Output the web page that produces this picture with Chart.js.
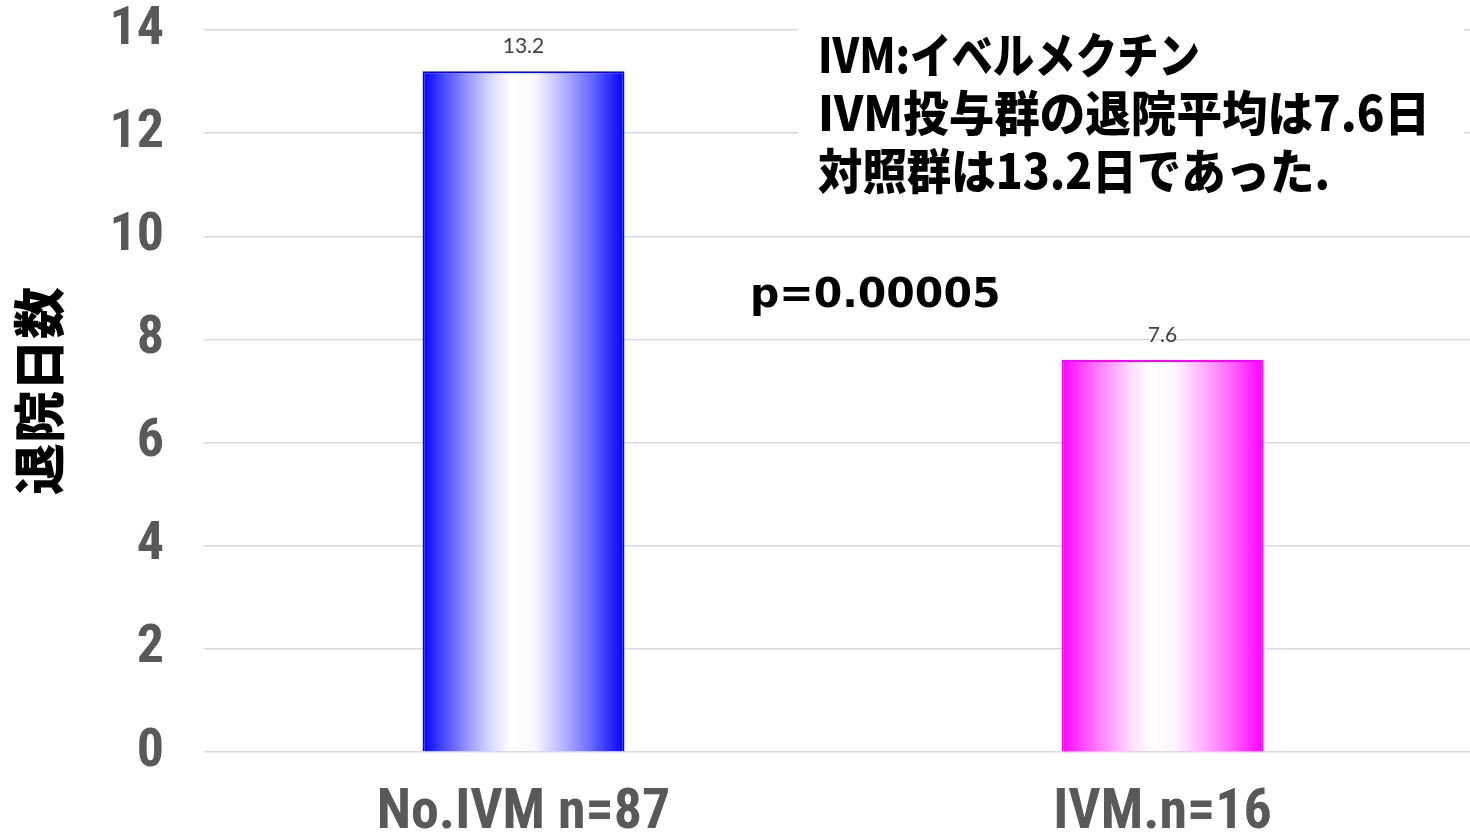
<!DOCTYPE html>
<html lang="ja">
<head>
<meta charset="utf-8">
<script src="https://cdn.jsdelivr.net/npm/chart.js@4.4.1/dist/chart.umd.min.js"></script>
<style>
  html, body { margin: 0; padding: 0; background: #ffffff; overflow: hidden; }
  #wrap { position: relative; width: 1482px; height: 832px; }
</style>
</head>
<body>
<div id="wrap"><canvas id="chart"></canvas></div>
<script>
// Mean length of hospital stay (days) by group
const categories = ['No.IVM n=87', 'IVM.n=16'];
const dischargeDays = [13.2, 7.6];
const barColors = ['#0000ff', '#ff00ff'];
const yTicks = [0, 2, 4, 6, 8, 10, 12, 14];
const yTitle = '退院日数';
const noteLines = ['IVM:イベルメクチン', 'IVM投与群の退院平均は7.6日', '対照群は13.2日であった.'];
const pValueText = 'p=0.00005';

const BAR_PCT = 0.316;
const NARROW = "'Liberation Sans Narrow', 'Roboto Condensed', 'DejaVu Sans Condensed', 'Liberation Sans', sans-serif";
const CJK = "'Noto Sans CJK JP', 'Noto Sans CJK SC', sans-serif";

// Blend a hex colour toward white by t (0..1)
function toWhite(hex, t) {
  const r = parseInt(hex.slice(1, 3), 16), g = parseInt(hex.slice(3, 5), 16), b = parseInt(hex.slice(5, 7), 16);
  const m = v => Math.round(v + (255 - v) * t);
  return `rgb(${m(r)},${m(g)},${m(b)})`;
}
// Horizontal shading across each bar: saturated edges, white middle
const shadeStops = [[0, 0], [0.1, 0.28], [0.22, 0.58], [0.34, 0.86], [0.44, 1], [0.56, 0.97], [0.7, 0.7], [0.84, 0.4], [0.95, 0.12], [1, 0]];

function barFill(c) {
  const chart = c.chart;
  const base = barColors[c.dataIndex];
  const xs = chart.scales.x;
  if (!chart.chartArea || !xs) return base;
  const center = xs.getPixelForValue(c.dataIndex);
  const half = xs.width / categories.length * BAR_PCT / 2;
  const g = chart.ctx.createLinearGradient(center - half, 0, center + half, 0);
  shadeStops.forEach(([p, t]) => g.addColorStop(p, toWhite(base, t)));
  return g;
}

// Value labels above bars, the note box and the p-value
const overlayPlugin = {
  id: 'overlay',
  afterDatasetsDraw(chart) {
    const ctx = chart.ctx;
    ctx.save();
    const meta = chart.getDatasetMeta(0);
    ctx.fillStyle = '#404040';
    ctx.font = "21px Lato, 'Open Sans', sans-serif";
    ctx.textAlign = 'center';
    ctx.textBaseline = 'middle';
    meta.data.forEach((el, i) => {
      ctx.fillText(String(dischargeDays[i]), el.x, el.y - 25);
    });

    // note box sits over the grid
    ctx.fillStyle = '#ffffff';
    ctx.fillRect(798, 16, 666, 188);
    ctx.fillStyle = '#000000';
    ctx.textAlign = 'left';
    ctx.font = `900 48px ${CJK}`;
    const lineY = [55, 113, 171];
    const lineW = [382, 612, 512];
    noteLines.forEach((t, i) => ctx.fillText(t, 818, lineY[i], lineW[i]));

    ctx.font = "bold 41px 'DejaVu Sans', sans-serif";
    ctx.fillText(pValueText, 750, 296);
    ctx.restore();
  }
};

new Chart(document.getElementById('chart'), {
  type: 'bar',
  data: {
    labels: categories,
    datasets: [{
      data: dischargeDays,
      backgroundColor: barFill,
      borderColor: barColors,
      borderWidth: 2,
      borderSkipped: 'bottom',
      barPercentage: BAR_PCT,
      categoryPercentage: 1
    }]
  },
  options: {
    responsive: true,
    maintainAspectRatio: false,
    animation: false,
    layout: { padding: { top: 30, right: 0, bottom: 0, left: 0 } },
    plugins: { legend: { display: false }, tooltip: { enabled: false } },
    scales: {
      x: {
        grid: { display: false },
        border: { display: false },
        ticks: {
          color: '#595959',
          font: { family: NARROW, size: 56, weight: 'bold', lineHeight: 1 },
          padding: 26,
          maxRotation: 0,
          autoSkip: false
        },
        afterFit(scale) { scale.height = 80; scale.paddingLeft = 0; scale.paddingRight = 0; }
      },
      y: {
        min: yTicks[0],
        max: yTicks[yTicks.length - 1],
        border: { display: false },
        grid: { color: '#d9d9d9', lineWidth: 1.5, drawTicks: false },
        ticks: {
          stepSize: yTicks[1] - yTicks[0],
          color: '#595959',
          font: { family: NARROW, size: 54, weight: 'bold', lineHeight: 1 },
          padding: 40
        },
        title: {
          display: true,
          text: yTitle,
          color: '#000000',
          font: { family: CJK, size: 52, weight: 900, lineHeight: 1.2 },
          padding: { top: 8, bottom: 0 }
        },
        afterFit(scale) { scale.width = 204; scale.paddingTop = 0; scale.paddingBottom = 0; }
      }
    }
  },
  plugins: [overlayPlugin]
});
</script>
</body>
</html>
